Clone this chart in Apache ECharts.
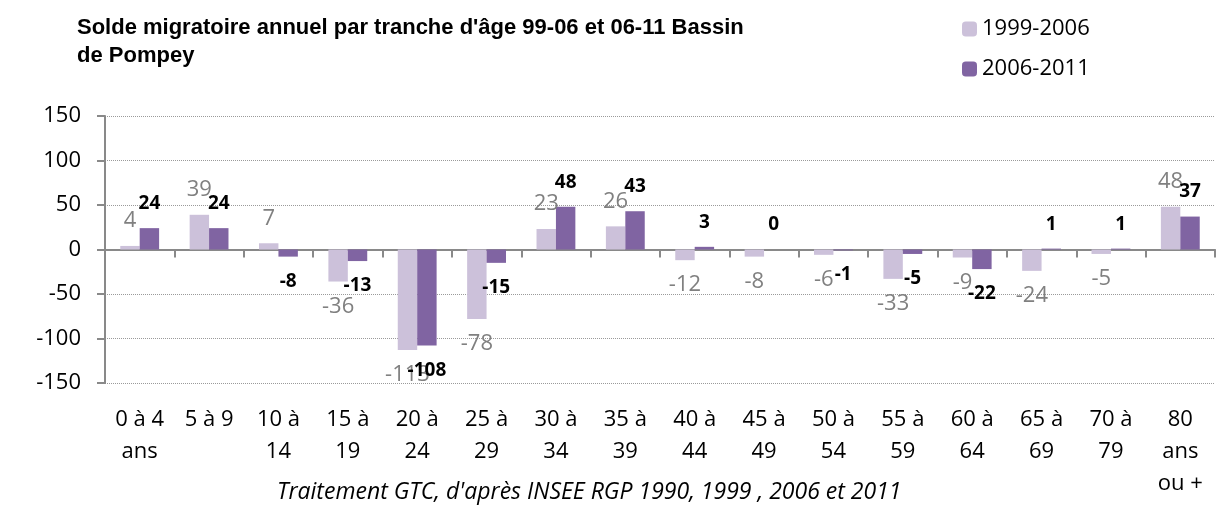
<!DOCTYPE html>
<html>
<head>
<meta charset="utf-8">
<title>Solde migratoire annuel par tranche d'âge</title>
<script src="https://cdn.jsdelivr.net/npm/echarts@6/dist/echarts.min.js"></script>
<style>
  html, body { margin: 0; padding: 0; background: #fff; }
  #main { width: 1231px; height: 505px; }
</style>
</head>
<body>
<div id="main"></div>
<script>
// tranches d'âge
var categories = ['0 à 4\nans', '5 à 9', '10 à\n14', '15 à\n19', '20 à\n24', '25 à\n29',
  '30 à\n34', '35 à\n39', '40 à\n44', '45 à\n49', '50 à\n54', '55 à\n59',
  '60 à\n64', '65 à\n69', '70 à\n79', '80\nans\nou +'];
var solde9906 = [4, 39, 7, -36, -113, -78, 23, 26, -12, -8, -6, -33, -9, -24, -5, 48];
var solde0611 = [24, 24, -8, -13, -108, -15, 48, 43, 3, 0, -1, -5, -22, 1, 1, 37];
var yTicks = [-150, -100, -50, 0, 50, 100, 150];

var FONT = 'Open Sans';

// etiquette au-dessus si positif, en dessous si négatif
function withLabels(values) {
  return values.map(function (v) {
    return { value: v, label: { position: v < 0 ? 'bottom' : 'top' } };
  });
}

var myChart = echarts.init(document.getElementById('main'));
var option = {
  backgroundColor: '#fff',
  animation: false,
  title: [{
    text: "Solde migratoire annuel par tranche d'âge 99-06 et 06-11 Bassin\nde Pompey",
    left: 72, top: 9,
    textStyle: { fontFamily: 'Liberation Sans', fontWeight: 'bold', fontSize: 22, lineHeight: 28, color: '#000' }
  }, {
    text: "Traitement GTC, d'après INSEE RGP 1990, 1999 , 2006 et 2011",
    left: 272, top: 476,
    textStyle: { fontFamily: FONT, fontStyle: 'italic', fontWeight: 'normal', fontSize: 23, color: '#000' }
  }],
  legend: {
    orient: 'vertical',
    left: 957, top: 13,
    itemWidth: 15, itemHeight: 15, itemGap: 18,
    textStyle: { fontFamily: FONT, fontSize: 22, color: '#000' },
    data: ['1999-2006', '2006-2011']
  },
  grid: { left: 105, right: 16, top: 116, bottom: 122 },
  xAxis: [{
    type: 'category',
    data: categories,
    position: 'bottom',
    axisLine: { onZero: true, lineStyle: { color: '#898989', width: 2 } },
    axisTick: { show: true, length: 8, lineStyle: { color: '#898989', width: 2 } },
    axisLabel: { show: false }
  }, {
    type: 'category',
    data: categories,
    position: 'bottom',
    axisLine: { show: false, onZero: false },
    axisTick: { show: false },
    axisLabel: { margin: 21, fontFamily: FONT, fontSize: 22, lineHeight: 32, color: '#000', interval: 0 }
  }],
  yAxis: {
    type: 'value',
    min: yTicks[0], max: yTicks[yTicks.length - 1], interval: 50,
    axisLine: { show: true, lineStyle: { color: '#898989', width: 2 } },
    axisTick: { show: true, length: 8, lineStyle: { color: '#898989', width: 2 } },
    axisLabel: { margin: 24, fontFamily: FONT, fontSize: 22, color: '#000' },
    splitLine: { show: true, lineStyle: { color: '#9a9a9a', type: 'dotted', width: 1 } }
  },
  series: [{
    name: '1999-2006',
    type: 'bar',
    xAxisIndex: 0,
    data: withLabels(solde9906),
    barGap: '0%',
    barCategoryGap: '44%',
    itemStyle: { color: '#CCC1DA' },
    label: { show: true, distance: 14, fontFamily: FONT, fontSize: 22, color: '#808080' }
  }, {
    name: '2006-2011',
    type: 'bar',
    xAxisIndex: 0,
    data: withLabels(solde0611),
    barGap: '0%',
    barCategoryGap: '44%',
    itemStyle: { color: '#8064A2' },
    label: { show: true, distance: 15, fontFamily: FONT, fontSize: 19, fontWeight: 'bold', color: '#000' }
  }]
};
myChart.setOption(option);
</script>
</body>
</html>
